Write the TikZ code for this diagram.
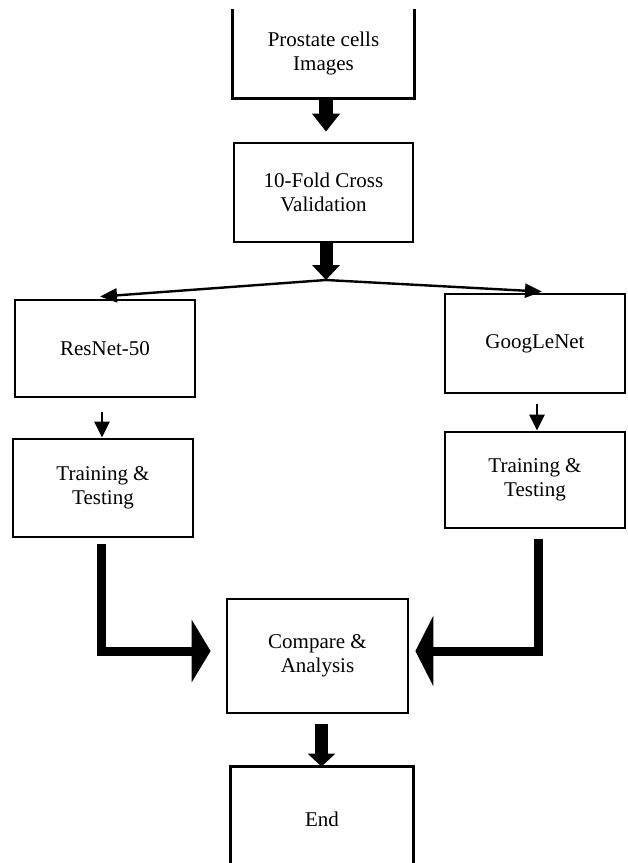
\documentclass[tikz,border=0pt]{standalone}
\usepackage{fontspec}
\setmainfont{Liberation Serif}
\usetikzlibrary{arrows.meta}
\begin{document}
\begin{tikzpicture}[x=1pt,y=-1pt,
  box/.style={draw=black, line width=2.8pt, inner sep=0pt, align=center,
    font=\fontsize{21}{24}\selectfont, text=black},
  openbox/.style={box, draw=none},
  sides/.style={line width=2.8pt, line join=miter},
  bigarrow/.style={line width=13pt, -{Triangle[width=27pt,length=15pt]}},
  thinarrow/.style={line width=2.4pt, -{Triangle[width=14pt,length=17pt]}},
  smallarrow/.style={line width=2.4pt, -{Triangle[width=15pt,length=16pt]}},
  elbow/.style={line width=9pt, line join=miter}]
\useasboundingbox (0,0) rectangle (628,863);
\clip (0,0) rectangle (628,863);
\fill[white] (0,0) rectangle (628,863);

% nodes
\node[openbox, minimum width=179pt, minimum height=87pt] (b1) at (323.5,53.5) {Prostate cells\\Images};
\draw[sides] (b1.north west) -- (b1.south west) -- (b1.south east) -- (b1.north east);
\node[box, minimum width=179pt, minimum height=99pt] (b2) at (323.5,192.5) {10-Fold Cross\\Validation};
\node[box, minimum width=180pt, minimum height=97pt] (rn) at (105,348.5) {ResNet-50};
\node[box, minimum width=180pt, minimum height=99pt] (gn) at (535,343.5) {GoogLeNet};
\node[box, minimum width=180pt, minimum height=98pt] (tl) at (103,488) {Training \&\\Testing};
\node[box, minimum width=180pt, minimum height=96pt] (tr) at (535,480) {Training \&\\Testing};
\node[box, minimum width=181pt, minimum height=114pt] (cmp) at (317.5,656) {Compare \&\\Analysis};
\node[openbox, minimum width=180pt, minimum height=102pt] (e) at (322,819) {End};
\draw[sides] (e.south west) -- (e.north west) -- (e.north east) -- (e.south east);

\coordinate (J) at (326,280);

% connectors
\draw[line width=14pt, -{Triangle[width=27pt,length=18pt]}] ([xshift=2.5pt]b1.south) -- ([xshift=2.5pt,yshift=10pt]b2.north);
\draw[bigarrow] ([xshift=2.5pt]b2.south) -- (J);
\draw[thinarrow] (J) -- ([xshift=-5pt,yshift=2pt]rn.north);
\draw[thinarrow] (J) -- ([xshift=7pt,yshift=1pt]gn.north);
\draw[smallarrow] ([xshift=-3pt,yshift=-14pt]rn.south) -- ([xshift=-1pt]tl.north);
\draw[smallarrow] ([xshift=2pt,yshift=-10pt]gn.south) -- ([xshift=2pt]tr.north);
\draw[elbow, -{Triangle[width=62pt,length=19pt]}] ([xshift=-2pt,yshift=-6pt]tl.south) |- ([xshift=-15pt,yshift=5pt]cmp.west);
\draw[elbow, -{Triangle[width=70pt,length=18pt]}] ([xshift=3pt,yshift=-10pt]tr.south) |- ([xshift=6pt,yshift=5pt]cmp.east);
\draw[bigarrow, -{Triangle[width=27pt,length=13pt]}] ([xshift=4pt,yshift=-10pt]cmp.south) -- ([xshift=-0.5pt]e.north);
\end{tikzpicture}
\end{document}
